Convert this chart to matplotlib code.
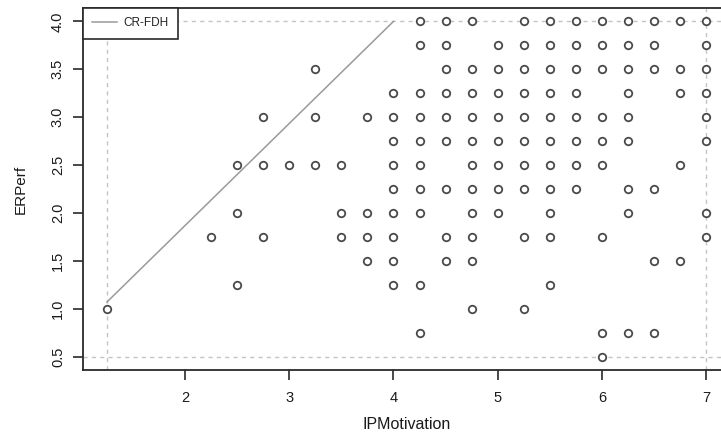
import matplotlib
matplotlib.use("Agg")
import matplotlib.pyplot as plt

plt.rcParams['font.family'] = ['Liberation Sans', 'DejaVu Sans']

# Observations grouped by ERPerf level: IPMotivation values at that level
erperf_levels = [4.0, 3.75, 3.5, 3.25, 3.0, 2.75, 2.5, 2.25, 2.0, 1.75, 1.5, 1.25, 1.0, 0.75, 0.5]
ip_at_4_00 = [4.25, 4.5, 4.75, 5.25, 5.5, 5.75, 6.0, 6.25, 6.5, 6.75, 7.0]
ip_at_3_75 = [4.25, 4.5, 5.0, 5.25, 5.5, 5.75, 6.0, 6.25, 6.5, 7.0]
ip_at_3_50 = [3.25, 4.5, 4.75, 5.0, 5.25, 5.5, 5.75, 6.0, 6.25, 6.5, 6.75, 7.0]
ip_at_3_25 = [4.0, 4.25, 4.5, 4.75, 5.0, 5.25, 5.5, 5.75, 6.25, 6.75, 7.0]
ip_at_3_00 = [2.75, 3.25, 3.75, 4.0, 4.25, 4.5, 4.75, 5.0, 5.25, 5.5, 5.75, 6.0, 6.25, 7.0]
ip_at_2_75 = [4.0, 4.25, 4.5, 4.75, 5.0, 5.25, 5.5, 5.75, 6.0, 6.25, 7.0]
ip_at_2_50 = [2.5, 2.75, 3.0, 3.25, 3.5, 4.0, 4.25, 4.75, 5.0, 5.25, 5.5, 5.75, 6.0, 6.75]
ip_at_2_25 = [4.0, 4.25, 4.5, 4.75, 5.0, 5.25, 5.5, 5.75, 6.25, 6.5]
ip_at_2_00 = [2.5, 3.5, 3.75, 4.0, 4.25, 4.75, 5.0, 5.5, 6.25, 7.0]
ip_at_1_75 = [2.25, 2.75, 3.5, 3.75, 4.0, 4.5, 4.75, 5.25, 5.5, 6.0, 7.0]
ip_at_1_50 = [3.75, 4.0, 4.5, 4.75, 6.5, 6.75]
ip_at_1_25 = [2.5, 4.0, 4.25, 5.5]
ip_at_1_00 = [1.25, 4.75, 5.25]
ip_at_0_75 = [4.25, 6.0, 6.25, 6.5]
ip_at_0_50 = [6.0]

# CR-FDH ceiling line end points
cr_fdh_x = [1.25, 4.0]
cr_fdh_y = [1.07, 4.0]

x_ticks = [2, 3, 4, 5, 6, 7]
y_ticks = [0.5, 1.0, 1.5, 2.0, 2.5, 3.0, 3.5, 4.0]

rows = [ip_at_4_00, ip_at_3_75, ip_at_3_50, ip_at_3_25, ip_at_3_00, ip_at_2_75,
        ip_at_2_50, ip_at_2_25, ip_at_2_00, ip_at_1_75, ip_at_1_50, ip_at_1_25,
        ip_at_1_00, ip_at_0_75, ip_at_0_50]
xs, ys = [], []
for lvl, row in zip(erperf_levels, rows):
    xs.extend(row)
    ys.extend([lvl] * len(row))

xmin, xmax = min(xs), max(xs)
ymin, ymax = min(ys), max(ys)
px = 0.04 * (xmax - xmin)
py = 0.04 * (ymax - ymin)

fig = plt.figure(figsize=(7.21, 4.36), dpi=100)
ax = fig.add_axes([83 / 721, 66 / 436, 647 / 721, 362 / 436])

# scope box (dashed)
dash_kw = dict(color='#c4c4c4', lw=1.0, ls=(0, (3, 3)), zorder=1)
ax.axhline(ymax, **dash_kw)
ax.axhline(ymin, **dash_kw)
ax.axvline(xmin, **dash_kw)
ax.axvline(xmax, **dash_kw)

ax.plot(cr_fdh_x, cr_fdh_y, color='#9a9a9a', lw=1.1, label='CR-FDH', zorder=2)
ax.plot(xs, ys, ls='none', marker='o', markersize=5.4, markerfacecolor='white',
        markeredgecolor='#4a4a4a', markeredgewidth=1.3, zorder=3)

ax.set_xlim(xmin - px, xmax + px)
ax.set_ylim(ymin - py, ymax + py)
ax.set_xticks(x_ticks)
ax.set_xticklabels([str(v) for v in x_ticks])
ax.set_yticks(y_ticks)
ax.set_yticklabels([f"{v:.1f}" for v in y_ticks], rotation=90, va='center')

for s in ['top', 'left', 'bottom']:
    ax.spines[s].set_color('#2a2a2a')
    ax.spines[s].set_linewidth(1.3)
ax.spines['right'].set_visible(False)
ax.tick_params(axis='both', direction='out', length=7, width=1.2, color='#2a2a2a',
               labelsize=10.5, labelcolor='#1a1a1a')
ax.tick_params(axis='x', pad=8)
ax.tick_params(axis='y', pad=6)

ax.set_xlabel('IPMotivation', fontsize=11.5, color='#1a1a1a', labelpad=9)
ax.set_ylabel('ERPerf', fontsize=11, color='#1a1a1a', labelpad=17)

leg = ax.legend(loc='upper left', borderaxespad=0, fancybox=False, framealpha=1,
                edgecolor='#2a2a2a', fontsize=8.5, handlelength=2.1,
                borderpad=0.8, handletextpad=0.5)
leg.get_frame().set_linewidth(1.2)
for t in leg.get_texts():
    t.set_color('#222222')

fig.savefig('out.png', dpi=100)
